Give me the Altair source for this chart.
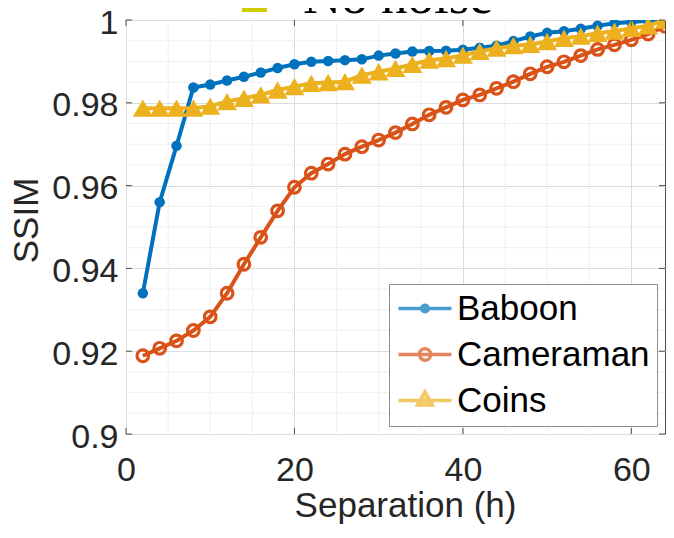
import altair as alt
import pandas as pd

# ---- data ----
separation = [2, 4, 6, 8, 10, 12, 14, 16, 18, 20, 22, 24, 26, 28, 30, 32,
              34, 36, 38, 40, 42, 44, 46, 48, 50, 52, 54, 56, 58, 60, 62, 64]
baboon = [0.9340, 0.9560, 0.9696, 0.9837, 0.9844, 0.9854, 0.9863, 0.9873,
          0.9884, 0.9893, 0.9899, 0.9901, 0.9903, 0.9905, 0.9914, 0.9919,
          0.9924, 0.9925, 0.9926, 0.9928, 0.9933, 0.9938, 0.9949, 0.9960,
          0.9969, 0.9973, 0.9979, 0.9986, 0.9992, 0.9995, 0.9998, 1.0000]
cameraman = [0.9189, 0.9207, 0.9225, 0.9250, 0.9283, 0.9340, 0.9410, 0.9475,
             0.9539, 0.9596, 0.9630, 0.9652, 0.9676, 0.9694, 0.9710, 0.9728,
             0.9749, 0.9771, 0.9789, 0.9807, 0.9819, 0.9835, 0.9851, 0.9870,
             0.9887, 0.9899, 0.9914, 0.9929, 0.9940, 0.9952, 0.9966, 0.9985]
coins = [0.9787, 0.9787, 0.9787, 0.9787, 0.9792, 0.9803, 0.9811, 0.9819,
         0.9831, 0.9839, 0.9847, 0.9849, 0.9851, 0.9867, 0.9875, 0.9883,
         0.9893, 0.9903, 0.9907, 0.9915, 0.9924, 0.9932, 0.9938, 0.9941,
         0.9948, 0.9956, 0.9961, 0.9968, 0.9973, 0.9980, 0.9986, 1.0000]

series_names = ["Baboon", "Cameraman", "Coins"]
series_colors = ["#0072BD", "#D95319", "#EDB120"]
series_fills = ["#0072BD", "transparent", "#EDB120"]

x_ticks = [0, 20, 40, 60]
y_ticks = [0.9, 0.92, 0.94, 0.96, 0.98, 1.0]
x_minor = [5, 10, 15, 25, 30, 35, 45, 50, 55]
y_minor = [0.905, 0.91, 0.915, 0.925, 0.93, 0.935, 0.945, 0.95, 0.955,
           0.965, 0.97, 0.975, 0.985, 0.99, 0.995]

title_text = ["No noise"]

# ---- tables ----
df = pd.DataFrame({
    "sep": separation * 3,
    "ssim": baboon + cameraman + coins,
    "series": ["Baboon"] * len(separation) + ["Cameraman"] * len(separation)
              + ["Coins"] * len(separation),
})
xmaj = pd.DataFrame({"v": x_ticks})
ymaj = pd.DataFrame({"v": y_ticks})
xmin_df = pd.DataFrame({"v": x_minor})
ymin_df = pd.DataFrame({"v": y_minor})
title_df = pd.DataFrame({"t": title_text})

W, H = 539, 414
FONT = "Liberation Sans"
AX = "#262626"

xs = alt.Scale(domain=[0, 64], nice=False, zero=False)
ys = alt.Scale(domain=[0.9, 1.0], nice=False, zero=False)

x_axis = alt.Axis(values=x_ticks, title="Separation (h)", grid=True,
                  gridColor="#dcdcdc", gridWidth=1, domain=False, ticks=False,
                  labelFont=FONT, labelFontSize=34, labelColor=AX,
                  labelPadding=19, labelFlush=False,
                  titleFont=FONT, titleFontSize=35, titleFontWeight="normal",
                  titleColor=AX, titleX=279, titleY=82,
                  titleBaseline="alphabetic", titleAlign="center")
y_axis = alt.Axis(values=y_ticks, format="~g", title="SSIM", grid=True,
                  gridColor="#dcdcdc", gridWidth=1, domain=False, ticks=False,
                  labelFont=FONT, labelFontSize=34, labelColor=AX,
                  labelPadding=8, labelFlush=False, labelOffset=3,
                  titleFont=FONT, titleFontSize=35, titleFontWeight="normal",
                  titleColor=AX, titleAngle=270, titleX=-100, titleY=200,
                  titleBaseline="middle", titleAlign="center")


def X(f):
    return alt.X(f"{f}:Q", scale=xs, axis=x_axis)


def Y(f):
    return alt.Y(f"{f}:Q", scale=ys, axis=y_axis)


layers = []

# minor grid
layers.append(alt.Chart(xmin_df).mark_rule(color="#e2e2e2", strokeWidth=1,
                                           strokeDash=[1, 1]).encode(x=X("v")))
layers.append(alt.Chart(ymin_df).mark_rule(color="#e2e2e2", strokeWidth=1,
                                           strokeDash=[1, 1]).encode(y=Y("v")))

# series
for name, col in zip(series_names, series_colors):
    base = alt.Chart(df).transform_filter(alt.datum.series == name)
    layers.append(base.mark_line(color=col, strokeWidth=4, clip=True)
                  .encode(x=X("sep"), y=Y("ssim")))
    if name == "Baboon":
        pts = base.mark_point(shape="circle", filled=True, size=110, color=col,
                              opacity=1, clip=True)
    elif name == "Cameraman":
        pts = base.mark_point(shape="circle", filled=False, size=135, color=col,
                              strokeWidth=3.2, opacity=1, clip=True)
    else:
        pts = base.mark_point(shape="triangle-up", filled=True, size=400,
                              color=col, opacity=1, clip=True)
    layers.append(pts.encode(x=X("sep"), y=Y("ssim")))

# inward ticks
TK = "#4d4d4d"
layers.append(alt.Chart(xmaj).mark_rule(color=TK, strokeWidth=1).encode(
    x=X("v"), y=alt.value(H), y2=alt.value(H - 6)))
layers.append(alt.Chart(xmaj).mark_rule(color=TK, strokeWidth=1).encode(
    x=X("v"), y=alt.value(0), y2=alt.value(6)))
layers.append(alt.Chart(ymaj).mark_rule(color=TK, strokeWidth=1).encode(
    y=Y("v"), x=alt.value(0), x2=alt.value(6)))
layers.append(alt.Chart(ymaj).mark_rule(color=TK, strokeWidth=1).encode(
    y=Y("v"), x=alt.value(W), x2=alt.value(W - 6)))

# legend (custom line+marker symbols)
def circle(cx, r):
    return (f"M{cx + r},0A{r},{r},0,1,1,{cx - r},0"
            f"A{r},{r},0,1,1,{cx + r},0Z")

LINE = "M-1,0H2.533"
CX = 0.767
paths = [
    LINE + circle(CX, 0.22),
    LINE + circle(CX, 0.38),
    LINE + f"M{CX},-0.58L{CX + 0.5},0.3L{CX - 0.5},0.3Z",
]
leg = alt.Legend(title=None, orient="bottom-right", offset=8, padding=7,
                 rowPadding=10, symbolSize=900, symbolStrokeWidth=3.5,
                 labelFont=FONT, labelFontSize=35, labelColor="black",
                 labelOffset=26, labelLimit=400, fillColor="white",
                 strokeColor="#8c8c8c", cornerRadius=0)
layers.append(
    alt.Chart(df).transform_filter("datum.sep < 0")
    .mark_point(strokeWidth=3.5)
    .encode(
        x=X("sep"), y=Y("ssim"),
        shape=alt.Shape("series:N", scale=alt.Scale(domain=series_names,
                                                    range=paths), legend=leg),
        stroke=alt.Stroke("series:N", scale=alt.Scale(domain=series_names,
                                                      range=series_colors),
                          legend=leg),
        fill=alt.Fill("series:N", scale=alt.Scale(domain=series_names,
                                                  range=series_fills),
                      legend=leg),
    )
)

# partially visible title at the top
layers.append(alt.Chart(title_df).mark_square(size=625, color="#d0cc00",
                                              opacity=1).encode(
    x=alt.value(128.5), y=alt.value(-20.5)))
layers.append(alt.Chart(title_df).mark_text(font="Liberation Serif",
                                            fontSize=53, color="black",
                                            baseline="alphabetic",
                                            align="center").encode(
    x=alt.value(272), y=alt.value(-7), text="t:N"))

chart = alt.layer(*layers).properties(
    width=W, height=H,
    padding={"left": 118, "top": 12, "right": 1, "bottom": 90},
    autosize=alt.AutoSizeParams(type="none"),
).configure_view(stroke="#4d4d4d", strokeWidth=1)

chart.save("out.html", embed_options={"renderer": "svg", "actions": False})
